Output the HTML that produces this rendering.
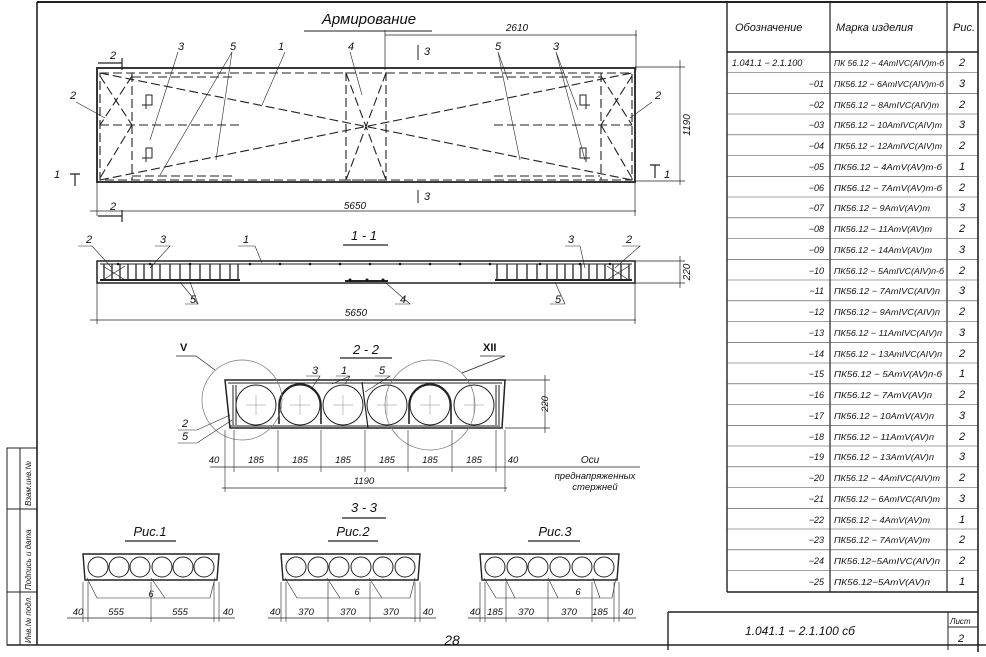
<!DOCTYPE html>
<html><head><meta charset="utf-8"><style>
html,body{margin:0;padding:0;background:#fff;}
svg{display:block;font-family:"Liberation Sans",sans-serif;font-style:italic;}
</style></head><body>
<svg width="986" height="657" viewBox="0 0 986 657" xmlns="http://www.w3.org/2000/svg">
<rect width="986" height="657" fill="#fff"/>
<g stroke="#222" fill="none" stroke-width="1">
<!-- frame -->
<line x1="37" y1="2" x2="986" y2="2" stroke-width="2"/>
<line x1="37" y1="2" x2="37" y2="645" stroke-width="1.6"/>
<line x1="7" y1="645" x2="986" y2="645" stroke-width="1.6"/>
<rect x="7" y="448" width="30" height="197"/>
<line x1="20" y1="448" x2="20" y2="645"/>
<line x1="7" y1="509" x2="37" y2="509"/>
<line x1="7" y1="592" x2="37" y2="592"/>
<!-- table -->
<line x1="727" y1="2" x2="727" y2="592" stroke-width="1.4"/>
<line x1="830" y1="2" x2="830" y2="592" stroke-width="1.2"/>
<line x1="947" y1="2" x2="947" y2="592" stroke-width="1.2"/>
<line x1="978" y1="2" x2="978" y2="652" stroke-width="1.6"/>
<line x1="727" y1="52" x2="978" y2="52" stroke-width="1.4"/>
<line x1="727" y1="592" x2="978" y2="592" stroke-width="1.4"/>
<!-- title block -->
<line x1="668" y1="612" x2="978" y2="612" stroke-width="1.4"/>
<line x1="668" y1="612" x2="668" y2="650" stroke-width="1.4"/>
<line x1="948" y1="612" x2="948" y2="650"/>
<line x1="948" y1="627" x2="978" y2="627"/>
</g>
<g stroke="#444" stroke-width="0.6">
<line x1="727" y1="72.5" x2="978" y2="72.5"/><line x1="727" y1="93.3" x2="978" y2="93.3"/><line x1="727" y1="114" x2="978" y2="114"/><line x1="727" y1="134.8" x2="978" y2="134.8"/><line x1="727" y1="155.5" x2="978" y2="155.5"/><line x1="727" y1="176.3" x2="978" y2="176.3"/><line x1="727" y1="197" x2="978" y2="197"/><line x1="727" y1="217.8" x2="978" y2="217.8"/><line x1="727" y1="238.5" x2="978" y2="238.5"/><line x1="727" y1="259.3" x2="978" y2="259.3"/><line x1="727" y1="280" x2="978" y2="280"/><line x1="727" y1="300.8" x2="978" y2="300.8"/><line x1="727" y1="321.5" x2="978" y2="321.5"/><line x1="727" y1="342.3" x2="978" y2="342.3"/><line x1="727" y1="363" x2="978" y2="363"/><line x1="727" y1="383.8" x2="978" y2="383.8"/><line x1="727" y1="404.5" x2="978" y2="404.5"/><line x1="727" y1="425.3" x2="978" y2="425.3"/><line x1="727" y1="446" x2="978" y2="446"/><line x1="727" y1="466.8" x2="978" y2="466.8"/><line x1="727" y1="487.5" x2="978" y2="487.5"/><line x1="727" y1="508.3" x2="978" y2="508.3"/><line x1="727" y1="529" x2="978" y2="529"/><line x1="727" y1="549.8" x2="978" y2="549.8"/><line x1="727" y1="570.5" x2="978" y2="570.5"/>
</g>
<g fill="#111" font-size="11">
<text x="735" y="31">Обозначение</text><text x="836" y="31">Марка изделия</text><text x="953" y="31">Рис.</text>
</g>
<g fill="#111" font-size="9">
<text x="732" y="66">1.041.1 − 2.1.100</text>
<g text-anchor="end">
<text x="824" y="87">−01</text><text x="824" y="108">−02</text><text x="824" y="128">−03</text><text x="824" y="149">−04</text><text x="824" y="170">−05</text><text x="824" y="191">−06</text><text x="824" y="211">−07</text><text x="824" y="232">−08</text><text x="824" y="253">−09</text><text x="824" y="274">−10</text><text x="824" y="294">−11</text><text x="824" y="315">−12</text><text x="824" y="336">−13</text><text x="824" y="357">−14</text><text x="824" y="377">−15</text><text x="824" y="398">−16</text><text x="824" y="419">−17</text><text x="824" y="440">−18</text><text x="824" y="460">−19</text><text x="824" y="481">−20</text><text x="824" y="502">−21</text><text x="824" y="523">−22</text><text x="824" y="543">−23</text><text x="824" y="564">−24</text><text x="824" y="585">−25</text>
</g>
<g font-size="8.5">
<text x="834" y="66" textLength="110" lengthAdjust="spacingAndGlyphs">ПК 56.12 − 4AтIVС(AIV)т-б</text>
<text x="834" y="87" textLength="110" lengthAdjust="spacingAndGlyphs">ПК56.12 − 6AтIVС(AIV)т-б</text>
<text x="834" y="108" textLength="105" lengthAdjust="spacingAndGlyphs">ПК56.12 − 8AтIVС(AIV)т</text>
<text x="834" y="128" textLength="108" lengthAdjust="spacingAndGlyphs">ПК56.12 − 10AтIVС(AIV)т</text>
<text x="834" y="149" textLength="108" lengthAdjust="spacingAndGlyphs">ПК56.12 − 12AтIVС(AIV)т</text>
<text x="834" y="170" textLength="108" lengthAdjust="spacingAndGlyphs">ПК56.12 − 4AтV(AV)т-б</text>
<text x="834" y="191" textLength="108" lengthAdjust="spacingAndGlyphs">ПК56.12 − 7AтV(AV)т-б</text>
<text x="834" y="211" textLength="96" lengthAdjust="spacingAndGlyphs">ПК56.12 − 9AтV(AV)т</text>
<text x="834" y="232" textLength="98" lengthAdjust="spacingAndGlyphs">ПК56.12 − 11AтV(AV)т</text>
<text x="834" y="253" textLength="98" lengthAdjust="spacingAndGlyphs">ПК56.12 − 14AтV(AV)т</text>
<text x="834" y="274" textLength="110" lengthAdjust="spacingAndGlyphs">ПК56.12 − 5AтIVС(AIV)п-б</text>
<text x="834" y="294" textLength="106" lengthAdjust="spacingAndGlyphs">ПК56.12 − 7AтIVС(AIV)п</text>
<text x="834" y="315" textLength="106" lengthAdjust="spacingAndGlyphs">ПК56.12 − 9AтIVС(AIV)п</text>
<text x="834" y="336" textLength="108" lengthAdjust="spacingAndGlyphs">ПК56.12 − 11AтIVС(AIV)п</text>
<text x="834" y="357" textLength="108" lengthAdjust="spacingAndGlyphs">ПК56.12 − 13AтIVС(AIV)п</text>
<text x="834" y="377" textLength="108" lengthAdjust="spacingAndGlyphs">ПК56.12 − 5AтV(AV)п-б</text>
<text x="834" y="398" textLength="98" lengthAdjust="spacingAndGlyphs">ПК56.12 − 7AтV(AV)п</text>
<text x="834" y="419" textLength="100" lengthAdjust="spacingAndGlyphs">ПК56.12 − 10AтV(AV)п</text>
<text x="834" y="440" textLength="100" lengthAdjust="spacingAndGlyphs">ПК56.12 − 11AтV(AV)п</text>
<text x="834" y="460" textLength="100" lengthAdjust="spacingAndGlyphs">ПК56.12 − 13AтV(AV)п</text>
<text x="834" y="481" textLength="106" lengthAdjust="spacingAndGlyphs">ПК56.12 − 4AтIVС(AIV)т</text>
<text x="834" y="502" textLength="106" lengthAdjust="spacingAndGlyphs">ПК56.12 − 6AтIVС(AIV)т</text>
<text x="834" y="523" textLength="96" lengthAdjust="spacingAndGlyphs">ПК56.12 − 4AтV(AV)т</text>
<text x="834" y="543" textLength="96" lengthAdjust="spacingAndGlyphs">ПК56.12 − 7AтV(AV)т</text>
<text x="834" y="564" textLength="106" lengthAdjust="spacingAndGlyphs">ПК56.12−5AтIVС(AIV)п</text>
<text x="834" y="585" textLength="96" lengthAdjust="spacingAndGlyphs">ПК56.12−5AтV(AV)п</text>
</g>
<g font-size="11" text-anchor="middle">
<text x="962" y="66">2</text><text x="962" y="87">3</text><text x="962" y="108">2</text><text x="962" y="128">3</text><text x="962" y="149">2</text><text x="962" y="170">1</text><text x="962" y="191">2</text><text x="962" y="211">3</text><text x="962" y="232">2</text><text x="962" y="253">3</text><text x="962" y="274">2</text><text x="962" y="294">3</text><text x="962" y="315">2</text><text x="962" y="336">3</text><text x="962" y="357">2</text><text x="962" y="377">1</text><text x="962" y="398">2</text><text x="962" y="419">3</text><text x="962" y="440">2</text><text x="962" y="460">3</text><text x="962" y="481">2</text><text x="962" y="502">3</text><text x="962" y="523">1</text><text x="962" y="543">2</text><text x="962" y="564">2</text><text x="962" y="585">1</text>
</g>
<text x="745" y="635" font-size="12">1.041.1 − 2.1.100 сб</text>
<text x="950" y="624" font-size="8">Лист</text>
<text x="958" y="642" font-size="11">2</text>
<g font-size="8">
<text transform="translate(31,506) rotate(-90)">Взам.инв.№</text>
<text transform="translate(31,590) rotate(-90)">Подпись и дата</text>
<text transform="translate(31,643) rotate(-90)">Инв.№ подл.</text>
</g>
</g>

<!-- ========== PLAN ========== -->
<g fill="#111" font-size="11">
<text x="369" y="24" font-size="15" text-anchor="middle">Армирование</text>
<text x="517" y="31" font-size="10" text-anchor="middle">2610</text>
<text x="110" y="59">2</text><text x="110" y="210">2</text>
<text x="178" y="50">3</text><text x="230" y="50">5</text><text x="278" y="50">1</text><text x="348" y="50">4</text>
<text x="424" y="55">3</text><text x="424" y="200">3</text>
<text x="495" y="50">5</text><text x="553" y="50">3</text>
<text x="70" y="99">2</text><text x="655" y="99">2</text>
<text x="54" y="178">1</text><text x="664" y="178">1</text>
<text x="355" y="209" font-size="10" text-anchor="middle">5650</text>
<text transform="translate(690,125) rotate(-90)" font-size="10" text-anchor="middle">1190</text>
</g>
<g stroke="#222" fill="none" stroke-width="1">
<line x1="304" y1="31" x2="432" y2="31"/>
<line x1="385" y1="35" x2="637" y2="35" stroke-width="0.7"/>
<line x1="385" y1="30" x2="385" y2="70" stroke-width="0.7"/>
<line x1="636" y1="30" x2="636" y2="70" stroke-width="0.7"/>
<line x1="418" y1="45" x2="418" y2="60"/><line x1="418" y1="190" x2="418" y2="203"/>
<path d="M98 63 H122 M122 58 V70 M98 216 H122 M122 210 V222" stroke-width="1.2"/>
<path d="M70 174 H80 M75 174 V186 M650 165 H660 M655 165 V178" stroke-width="1.2"/>
<rect x="97" y="68" width="538" height="114" stroke-width="1.8"/>
<line x1="90" y1="211" x2="636" y2="211" stroke-width="0.7"/>
<line x1="97" y1="182" x2="97" y2="216" stroke-width="0.7"/>
<line x1="635" y1="182" x2="635" y2="216" stroke-width="0.7"/>
<line x1="680" y1="60" x2="680" y2="185" stroke-width="0.7"/>
<line x1="635" y1="67" x2="685" y2="67" stroke-width="0.7"/><line x1="635" y1="181" x2="685" y2="181" stroke-width="0.7"/>
<g stroke-dasharray="9 4" stroke-width="1.1">
<rect x="100" y="73" width="532" height="107"/>
<line x1="132" y1="73" x2="132" y2="180"/><line x1="601" y1="73" x2="601" y2="180"/>
<rect x="346" y="73" width="40" height="107"/>
<line x1="100" y1="73" x2="632" y2="180"/><line x1="100" y1="180" x2="632" y2="73"/>
<line x1="346" y1="73" x2="386" y2="180"/><line x1="386" y1="73" x2="346" y2="180"/>
<line x1="100" y1="76" x2="132" y2="125"/><line x1="132" y1="125" x2="100" y2="178"/><line x1="132" y1="76" x2="100" y2="125"/>
<line x1="632" y1="76" x2="601" y2="125"/><line x1="601" y1="125" x2="632" y2="178"/><line x1="601" y1="76" x2="632" y2="125"/>
<line x1="100" y1="125" x2="240" y2="125"/><line x1="494" y1="125" x2="632" y2="125"/>
<line x1="132" y1="77" x2="232" y2="77"/><line x1="132" y1="176" x2="232" y2="176"/>
<line x1="494" y1="77" x2="600" y2="77"/><line x1="494" y1="176" x2="600" y2="176"/>
</g>
<path d="M142 105 h10 v-10 h-6 v14 M142 158 h10 v-10 h-6 v14 M590 105 h-10 v-10 h6 v14 M590 158 h-10 v-10 h6 v14" stroke-width="1"/>
<path d="M178 52 L150 140 M232 52 L216 160 M232 52 L160 175 M285 52 L262 105 M350 52 L362 95 M498 52 L520 160 M498 52 L508 80 M556 52 L578 110 M556 52 L585 160 M76 102 L105 118 M652 102 L630 118" stroke-width="0.6"/>
</g>

<!-- ========== SECTION 1-1 ========== -->
<g fill="#111" font-size="11">
<text x="364" y="240" text-anchor="middle" font-size="13">1 - 1</text>
<text x="86" y="243">2</text><text x="160" y="243">3</text><text x="243" y="243">1</text>
<text x="568" y="243">3</text><text x="626" y="243">2</text>
<text x="190" y="303">5</text><text x="400" y="303">4</text><text x="555" y="303">5</text>
<text x="356" y="316" font-size="10" text-anchor="middle">5650</text>
<text transform="translate(690,272) rotate(-90)" font-size="10" text-anchor="middle">220</text>
</g>
<g stroke="#222" fill="none">
<line x1="343" y1="245" x2="388" y2="245" stroke-width="1.2"/>
<rect x="97" y="261" width="538" height="22" stroke-width="1.5"/>
<line x1="100" y1="264" x2="632" y2="264" stroke-width="1"/>
<line x1="100" y1="280" x2="240" y2="280" stroke-width="2"/><line x1="495" y1="280" x2="632" y2="280" stroke-width="2"/>
<line x1="345" y1="281" x2="388" y2="281" stroke-width="2"/>
<path stroke-width="1.3" d="M104 264V281M112 264V281M120 264V281M128 264V281M136 264V281M144 264V281M152 264V281M160 264V281M170 264V281M180 264V281M190 264V281M200 264V281M210 264V281M220 264V281M230 264V281M238 264V281 M497 264V281M507 264V281M517 264V281M527 264V281M537 264V281M547 264V281M557 264V281M565 264V281M573 264V281M581 264V281M589 264V281M597 264V281M605 264V281M613 264V281M621 264V281M629 264V281"/>
<path d="M103 266 L125 280 M125 266 L103 280 M607 266 L629 280 M629 266 L607 280" stroke-width="0.7"/>
<path d="M78 246 H92 L112 268 M155 246 H170 L150 268 M238 246 H255 L262 263 M565 246 H580 L585 268 M622 246 H640 L615 268 M185 304 H198 L180 282 M198 304 L190 282 M395 304 H410 L386 283 M550 304 H565 L555 282" stroke-width="0.6"/>
<line x1="90" y1="320" x2="636" y2="320" stroke-width="0.7"/>
<line x1="97" y1="283" x2="97" y2="324" stroke-width="0.7"/><line x1="635" y1="283" x2="635" y2="324" stroke-width="0.7"/>
<line x1="680" y1="256" x2="680" y2="288" stroke-width="0.7"/>
<line x1="635" y1="261" x2="685" y2="261" stroke-width="0.7"/><line x1="635" y1="283" x2="685" y2="283" stroke-width="0.7"/>
</g>
<g fill="#111"><circle cx="118" cy="264" r="1.3"/><circle cx="150" cy="264" r="1.3"/><circle cx="190" cy="264" r="1.3"/><circle cx="250" cy="264" r="1.3"/><circle cx="280" cy="264" r="1.3"/><circle cx="310" cy="264" r="1.3"/><circle cx="340" cy="264" r="1.3"/><circle cx="370" cy="264" r="1.3"/><circle cx="400" cy="264" r="1.3"/><circle cx="430" cy="264" r="1.3"/><circle cx="460" cy="264" r="1.3"/><circle cx="490" cy="264" r="1.3"/><circle cx="540" cy="264" r="1.3"/><circle cx="580" cy="264" r="1.3"/><circle cx="610" cy="264" r="1.3"/><circle cx="350" cy="280" r="1.5"/><circle cx="367" cy="280" r="1.5"/><circle cx="383" cy="280" r="1.5"/></g>

<!-- ========== SECTION 2-2 ========== -->
<g fill="#111" font-size="11">
<text x="366" y="354" text-anchor="middle" font-size="13">2 - 2</text>
<text x="180" y="351" font-weight="bold" font-style="normal">V</text>
<text x="483" y="351" font-weight="bold" font-style="normal">XII</text>
<text x="312" y="374">3</text><text x="341" y="374">1</text><text x="379" y="374">5</text>
<text x="182" y="427">2</text><text x="182" y="440">5</text>
<g font-size="9.5" text-anchor="middle">
<text x="214" y="463">40</text><text x="256" y="463">185</text><text x="300" y="463">185</text><text x="343" y="463">185</text><text x="387" y="463">185</text><text x="430" y="463">185</text><text x="474" y="463">185</text><text x="513" y="463">40</text>
<text x="364" y="484">1190</text>
<text transform="translate(548,404) rotate(-90)">220</text>
</g>
<text x="590" y="463" font-size="10" text-anchor="middle">Оси</text>
<text x="595" y="479" font-size="9.5" text-anchor="middle">преднапряженных</text>
<text x="595" y="490" font-size="9.5" text-anchor="middle">стержней</text>
</g>
<g stroke="#222" fill="none">
<line x1="340" y1="358" x2="392" y2="358" stroke-width="1.2"/>
<path d="M225 380 H505 L502 428 H230 Z" stroke-width="1.5"/>
<line x1="228" y1="383" x2="502" y2="383"/><line x1="230" y1="426" x2="500" y2="426"/>
<g stroke-width="1"><circle cx="256" cy="405" r="20"/><circle cx="300" cy="405" r="20"/><circle cx="343" cy="405" r="20"/><circle cx="387" cy="405" r="20"/><circle cx="430" cy="405" r="20"/><circle cx="474" cy="405" r="20"/></g>
<path d="M279 424 V405 A21 21 0 0 1 321 405 V424 M409 424 V405 A21 21 0 0 1 451 405 V424" stroke-width="1.6"/>
<line x1="362" y1="382" x2="368" y2="428" stroke-width="1.2"/>
<path d="M233 385 V425 M236 385 V425 M496 385 V425 M499 385 V425" stroke-width="1"/>
<g stroke="#888" stroke-width="0.5"><path d="M246 405h20M256 395v20M290 405h20M300 395v20M333 405h20M343 395v20M377 405h20M387 395v20M420 405h20M430 395v20M464 405h20M474 395v20"/></g>
<circle cx="242" cy="400" r="40" stroke="#777" stroke-width="0.7"/>
<circle cx="430" cy="405" r="45" stroke="#777" stroke-width="0.7"/>
<path d="M176 356 H196 L215 370 M480 356 H505 L462 373" stroke-width="0.7"/>
<path d="M306 376 H320 L312 388 M336 376 H350 L332 384 M350 376 L345 384 M375 376 H390 L365 392 M178 430 H197 L230 415 M178 443 H197 L232 420" stroke-width="0.6"/>
<line x1="210" y1="467" x2="640" y2="467" stroke-width="0.7"/>
<line x1="222" y1="488" x2="507" y2="488" stroke-width="0.7"/>
<path d="M225 430V492M234 430V472M278 430V472M321 430V472M365 430V472M408 430V472M452 430V472M496 430V472M505 430V492" stroke-width="0.6"/>
<line x1="545" y1="375" x2="545" y2="433" stroke-width="0.7"/>
<line x1="505" y1="380" x2="550" y2="380" stroke-width="0.7"/><line x1="505" y1="428" x2="550" y2="428" stroke-width="0.7"/>
</g>

<!-- ========== SECTION 3-3 ========== -->
<g fill="#111">
<text x="364" y="512" text-anchor="middle" font-size="13">3 - 3</text>
<text x="150" y="536" text-anchor="middle" font-size="13">Рис.1</text>
<text x="353" y="536" text-anchor="middle" font-size="13">Рис.2</text>
<text x="555" y="536" text-anchor="middle" font-size="13">Рис.3</text>
<text x="452" y="645" font-size="14" text-anchor="middle">28</text>
<g font-size="9.5" text-anchor="middle">
<text x="151" y="597">6</text><text x="357" y="595">6</text><text x="578" y="595">6</text>
<text x="78" y="615">40</text><text x="116" y="615">555</text><text x="180" y="615">555</text><text x="228" y="615">40</text>
<text x="275" y="615">40</text><text x="306" y="615">370</text><text x="348" y="615">370</text><text x="391" y="615">370</text><text x="428" y="615">40</text>
<text x="475" y="615">40</text><text x="495" y="615">185</text><text x="526" y="615">370</text><text x="569" y="615">370</text><text x="600" y="615">185</text><text x="628" y="615">40</text>
</g>
</g>
<g stroke="#222" fill="none">
<line x1="342" y1="518" x2="386" y2="518" stroke-width="1.2"/>
<line x1="125" y1="541" x2="176" y2="541" stroke-width="1.2"/>
<line x1="328" y1="541" x2="378" y2="541" stroke-width="1.2"/>
<line x1="528" y1="541" x2="580" y2="541" stroke-width="1.2"/>
<g id="sec1">
<path d="M83 554 H219 L217 580 H85 Z" stroke-width="1.4"/>
<g stroke-width="1"><circle cx="98" cy="567" r="10"/><circle cx="119" cy="567" r="10"/><circle cx="140" cy="567" r="10"/><circle cx="162" cy="567" r="10"/><circle cx="183" cy="567" r="10"/><circle cx="204" cy="567" r="10"/></g>
</g>
<path d="M281 554 H420 L418 580 H283 Z" stroke-width="1.4"/>
<g stroke-width="1"><circle cx="296" cy="567" r="10"/><circle cx="318" cy="567" r="10"/><circle cx="339" cy="567" r="10"/><circle cx="361" cy="567" r="10"/><circle cx="383" cy="567" r="10"/><circle cx="405" cy="567" r="10"/></g>
<path d="M480 554 H619 L617 580 H482 Z" stroke-width="1.4"/>
<g stroke-width="1"><circle cx="495" cy="567" r="10"/><circle cx="517" cy="567" r="10"/><circle cx="538" cy="567" r="10"/><circle cx="560" cy="567" r="10"/><circle cx="582" cy="567" r="10"/><circle cx="604" cy="567" r="10"/></g>
<path d="M87 578 L97 598 H210 L215 578 M151 578 L165 598 M285 578 L297 598 H410 L415 578 M327 578 L340 598 M369 578 L382 598 M484 578 L496 598 H612 L616 578 M505 578 L515 598 M548 578 L558 598 M593 578 L600 598" stroke-width="0.6"/>
<line x1="67" y1="618" x2="235" y2="618" stroke-width="0.7"/>
<line x1="268" y1="618" x2="436" y2="618" stroke-width="0.7"/>
<line x1="468" y1="618" x2="636" y2="618" stroke-width="0.7"/>
<path d="M83 582V622M88 582V622M151 582V622M214 582V622M219 582V622 M281 582V622M286 582V622M328 582V622M370 582V622M415 582V622M420 582V622 M480 582V622M485 582V622M506 582V622M548 582V622M592 582V622M614 582V622M619 582V622" stroke-width="0.6"/>
</g>
</svg>
</body></html>
